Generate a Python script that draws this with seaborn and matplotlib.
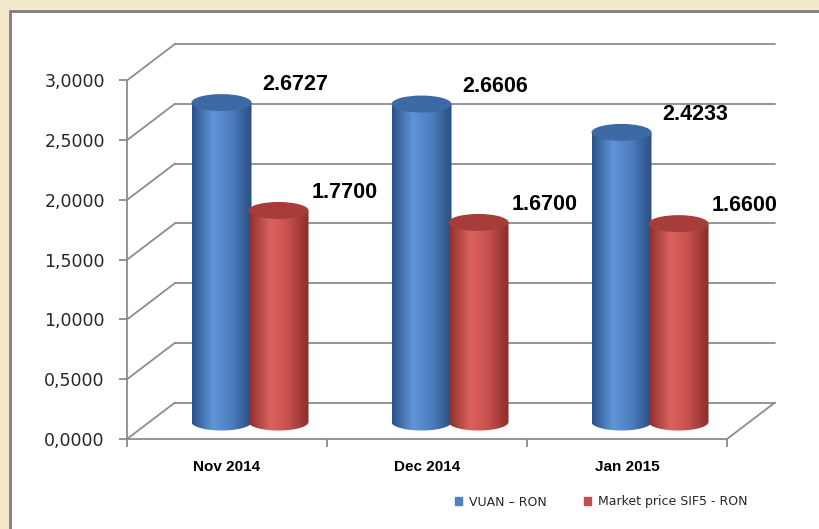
import numpy as np
import pandas as pd
import matplotlib
matplotlib.use("Agg")
import matplotlib.pyplot as plt
import seaborn as sns
from matplotlib.patches import Ellipse, Rectangle, Patch, PathPatch
from matplotlib.path import Path
from matplotlib.colors import LinearSegmentedColormap

# ---------------- data ----------------
months = ["Nov 2014", "Dec 2014", "Jan 2015"]
vuan = [2.6727, 2.6606, 2.4233]
market = [1.7700, 1.6700, 1.6600]
series = ["VUAN \u2013 RON", "Market price SIF5 - RON"]
yticks = [0.0, 0.5, 1.0, 1.5, 2.0, 2.5, 3.0]

df = pd.DataFrame({
    "month": months * 2,
    "value": vuan + market,
    "series": [series[0]] * 3 + [series[1]] * 3,
})

BLUE = "#4f81bd"
RED = "#c0504d"

sns.set_theme(style="white")
plt.rcParams["font.family"] = ["DejaVu Sans"]

W, H = 820, 529
fig = plt.figure(figsize=(W / 100, H / 100), dpi=100)
fig.patch.set_facecolor("#f4e9cc")
fig.add_artist(Rectangle((10 / W, -0.1), 1.0, (H - 11) / H + 0.1,
                         transform=fig.transFigure, facecolor="white",
                         edgecolor="#7f7f7f", lw=2, zorder=0))

# geometry (front plane + depth)
PXY = 119.67          # px per y unit
DX = 48 / 200         # back-wall depth shift in x units
DY = 36.5 / PXY       # back-wall depth shift in y units
SX = 23 / 200         # cylinder depth shift
SY = 17 / PXY
EH = 17 / PXY         # ellipse height
BW = 0.30             # cylinder width

ax = fig.add_axes([127 / W, 90 / H, 648 / W, 395 / H])
ax.patch.set_alpha(0)

sns.barplot(data=df, x="month", y="value", hue="series",
            palette=[BLUE, RED], width=0.57, ax=ax, legend=False,
            errorbar=None, saturation=1)

ax.set_xlim(-0.5, 2.5 + DX)
ax.set_ylim(0, 3 + DY)

# back wall gridlines and floor
gc = "#8c8c8c"
for v in yticks:
    ax.plot([-0.5, -0.5 + DX], [v, v + DY], color=gc, lw=1.3, zorder=1, clip_on=False)
    ax.plot([-0.5 + DX, 2.5 + DX], [v + DY, v + DY], color=gc, lw=1.3, zorder=1, clip_on=False)
ax.plot([2.5, 2.5 + DX], [0, DY], color=gc, lw=1.3, zorder=1, clip_on=False)

cmaps = {
    "blue": LinearSegmentedColormap.from_list("b", [(0, "#2b5287"), (0.35, "#5f94d8"),
                                                    (0.65, "#4c7fc0"), (1, "#2a4f80")]),
    "red": LinearSegmentedColormap.from_list("r", [(0, "#8c2f2c"), (0.35, "#db625f"),
                                                   (0.65, "#c8514e"), (1, "#8a2d2b")]),
}
caps = {"blue": "#3d6aa5", "red": "#a73d3a"}
lab_off = {"blue": 0.37, "red": 0.33}

bars = [p for p in ax.patches if p.get_height() > 0]
n = len(months)
for i, p in enumerate(bars):
    key = "blue" if i < n else "red"
    z = 3 if key == "blue" else 5
    cx = p.get_x() + p.get_width() / 2 + SX
    h = p.get_height()
    x0, x1 = cx - BW / 2, cx + BW / 2
    y0 = SY
    p.set_visible(False)

    t = np.linspace(np.pi, 2 * np.pi, 40)
    verts = [(x0, y0 + h), (x0, y0)]
    verts += list(zip(cx + BW / 2 * np.cos(t), y0 + EH / 2 * np.sin(t)))
    verts += [(x1, y0), (x1, y0 + h), (x0, y0 + h)]
    path = Path(verts, closed=True)
    clip = PathPatch(path, transform=ax.transData, facecolor="none", edgecolor="none")
    ax.add_patch(clip)
    grad = np.linspace(0, 1, 256).reshape(1, -1)
    im = ax.imshow(grad, cmap=cmaps[key], aspect="auto",
                   extent=[x0, x1, y0 - EH / 2, y0 + h], zorder=z,
                   interpolation="bilinear")
    im.set_clip_path(clip)
    ax.add_patch(Ellipse((cx, y0 + h), BW, EH, facecolor=caps[key],
                         edgecolor="none", zorder=z + 0.5))
    ax.text(cx + lab_off[key], h + 0.29, f"{h:.4f}", ha="center", va="center",
            fontsize=15.5, fontweight="bold", family="Liberation Sans",
            color="black", zorder=10)

# axes lines
for s in ["top", "right"]:
    ax.spines[s].set_visible(False)
ax.spines["left"].set_bounds(0, 3)
ax.spines["bottom"].set_bounds(-0.5, 2.5)
for s in ["left", "bottom"]:
    ax.spines[s].set_color(gc)
    ax.spines[s].set_linewidth(1.3)

ax.set_yticks(yticks)
ax.set_yticklabels([f"{v:.4f}".replace(".", ",") for v in yticks])
ax.tick_params(axis="y", left=True, length=6, width=1.3, color=gc, pad=10,
               labelsize=12.5, labelcolor="#262626")

ax.set_xticks([0, 1, 2])
ax.set_xticklabels(months, fontfamily="Liberation Sans", fontweight="bold",
                   fontsize=11, color="black")
ax.set_xticks([-0.5, 0.5, 1.5, 2.5], minor=True)
ax.tick_params(axis="x", which="major", bottom=False, length=0, pad=15)
ax.tick_params(axis="x", which="minor", bottom=True, length=6, width=1.3, color=gc)
ax.set_xlabel("")
ax.set_ylabel("")

fig.legend(handles=[Patch(color=BLUE), Patch(color=RED)], labels=series,
           loc="center", bbox_to_anchor=(601 / W, 27 / H), ncol=2, frameon=False,
           fontsize=9, handlelength=0.6, handleheight=0.6, handletextpad=0.5,
           columnspacing=3.0, labelcolor="#262626")

fig.savefig("out.png", dpi=100, facecolor=fig.get_facecolor())
